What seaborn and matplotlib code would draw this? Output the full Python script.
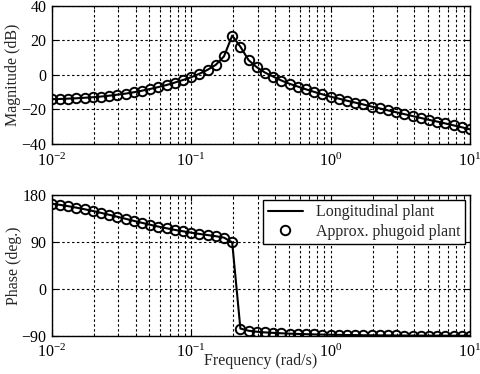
import matplotlib
matplotlib.use("Agg")
import matplotlib.pyplot as plt
import pandas as pd
import seaborn as sns
from matplotlib.ticker import LogLocator, NullFormatter


FREQ = [0.01, 0.01145, 0.01311, 0.01501, 0.01719, 0.01968, 0.02254, 0.02581, 0.02955, 0.03384,
        0.03875, 0.04437, 0.0508, 0.05817, 0.06661, 0.07627, 0.08733, 0.1, 0.1145, 0.1311,
        0.1501, 0.1719, 0.1968, 0.2254, 0.2581, 0.2955, 0.3384, 0.3875, 0.4437, 0.508,
        0.5817, 0.6661, 0.7627, 0.8733, 1.0, 1.145, 1.311, 1.501, 1.719, 1.968,
        2.254, 2.581, 2.955, 3.384, 3.875, 4.437, 5.08, 5.817, 6.661, 7.627, 8.733, 10.0]
MAG_DB = [-14.0, -13.9, -13.7, -13.5, -13.2, -12.9, -12.5, -12.0, -11.4, -10.8,
          -10.0, -9.1, -8.1, -7.0, -5.8, -4.4, -2.9, -1.3, 0.7, 3.0,
          5.9, 10.8, 22.8, 16.4, 8.6, 4.5, 1.4, -0.9, -3.2, -5.1,
          -6.7, -8.3, -9.8, -11.2, -12.6, -13.7, -14.9, -16.0, -17.1, -18.3,
          -19.4, -20.5, -21.6, -22.7, -23.8, -24.9, -26.0, -27.0, -28.1, -29.2, -30.3, -31.5]
PHASE_DEG = [163.1, 160.8, 158.3, 155.5, 152.4, 149.1, 145.5, 141.8, 138.0, 134.1,
             130.2, 126.4, 122.7, 119.2, 116.0, 112.9, 110.2, 107.6, 105.2, 103.0,
             100.8, 98.1, 89.0, -76.0, -80.2, -82.1, -83.4, -84.3, -85.1, -85.8,
             -86.3, -86.8, -87.2, -87.6, -87.9, -88.1, -88.4, -88.6, -88.8, -88.9,
             -89.1, -89.2, -89.3, -89.4, -89.5, -89.5, -89.6, -89.6, -89.7, -89.7, -89.8, -89.8]

MAG_TICKS = [-40, -20, 0, 20, 40]
PHASE_TICKS = [-90, 0, 90, 180]
LINE_LABEL = "Longitudinal plant"
MARK_LABEL = "Approx. phugoid plant"
FS = 11.5


def style_axis(ax, yticks):
    ax.set_xscale("log")
    ax.set_xlim(0.01, 10)
    ax.set_ylim(yticks[0], yticks[-1])
    ax.set_yticks(yticks)
    ax.xaxis.set_major_locator(LogLocator(base=10, numticks=10))
    ax.xaxis.set_minor_locator(LogLocator(base=10, subs=range(2, 10), numticks=10))
    ax.xaxis.set_minor_formatter(NullFormatter())
    grid_kw = dict(color="black", linestyle=(0, (2.2, 2.2)), linewidth=0.8)
    ax.grid(True, which="both", axis="x", **grid_kw)
    ax.grid(True, which="major", axis="y", **grid_kw)
    ax.tick_params(which="both", direction="in", top=True, right=True, colors="black",
                   labelsize=FS)
    ax.tick_params(axis="x", pad=6)
    ax.tick_params(axis="y", pad=4)
    ax.tick_params(which="major", length=4)
    ax.tick_params(which="minor", length=2)
    for sp in ax.spines.values():
        sp.set_color("black")
        sp.set_linewidth(1.0)
    ax.set_xlabel("")


def draw(ax, col, legend):
    sns.lineplot(data=df, x="freq", y=col, ax=ax, color="black", linewidth=1.5,
                 label=LINE_LABEL if legend else None, legend=False)
    sns.lineplot(data=df, x="freq", y=col, ax=ax, color="black", linestyle="none",
                 marker="o", markersize=6.8, markerfacecolor="none", markeredgecolor="black",
                 markeredgewidth=1.4, label=MARK_LABEL if legend else None, legend=False)


sns.set_style("ticks")
plt.rcParams["font.family"] = ["Liberation Serif", "DejaVu Serif"]
plt.rcParams["mathtext.fontset"] = "custom"
plt.rcParams["mathtext.rm"] = "Liberation Serif"
plt.rcParams["mathtext.it"] = "Liberation Serif:italic"

df = pd.DataFrame({"freq": FREQ, "mag": MAG_DB, "phase": PHASE_DEG})

fig = plt.figure(figsize=(4.8, 3.74), dpi=100)
ax1 = fig.add_axes([0.108, 0.615, 0.871, 0.369])
ax2 = fig.add_axes([0.108, 0.102, 0.871, 0.377])

draw(ax1, "mag", False)
draw(ax2, "phase", True)
style_axis(ax1, MAG_TICKS)
style_axis(ax2, PHASE_TICKS)

ax1.set_ylabel("Magnitude (dB)", fontsize=FS, va="center")
ax1.yaxis.set_label_coords(-0.092, 0.5)
ax2.set_ylabel("Phase (deg.)", fontsize=FS, va="center")
ax2.yaxis.set_label_coords(-0.090, 0.5)
ax2.set_xlabel("Frequency (rad/s)", fontsize=FS, va="center")
ax2.xaxis.set_label_coords(0.5, -0.18)

leg = ax2.legend(loc="upper right", fontsize=FS, frameon=True, fancybox=False,
                 edgecolor="black", framealpha=1, borderaxespad=0.3,
                 handlelength=2.2, borderpad=0.3, labelspacing=0.2)
leg.get_frame().set_linewidth(1.0)

fig.savefig("out.png", dpi=100)
